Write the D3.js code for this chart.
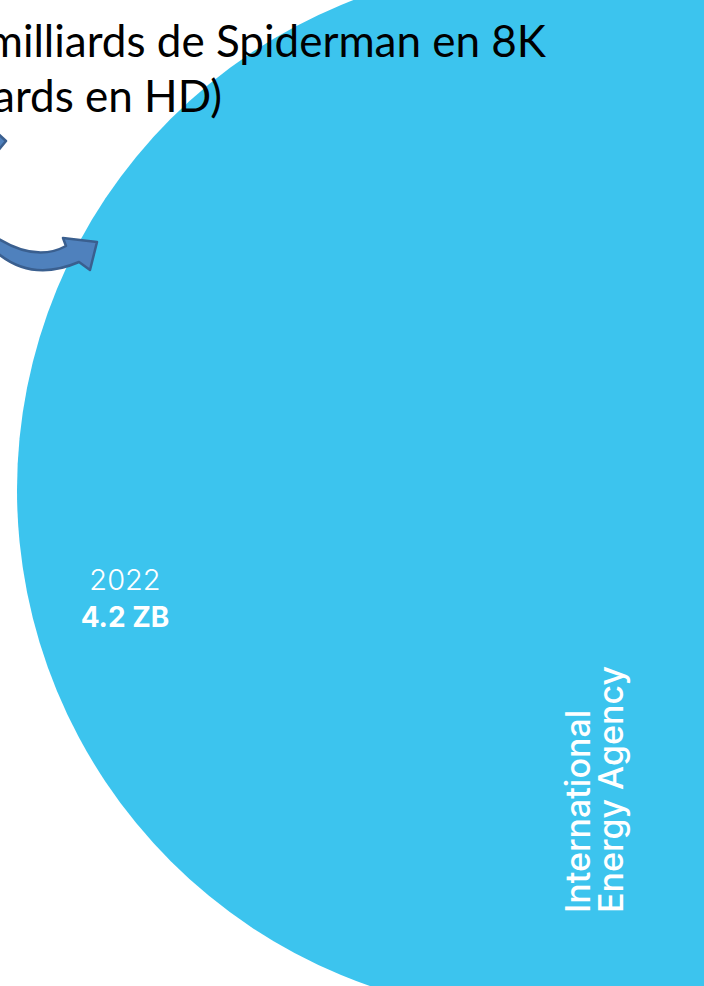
<!DOCTYPE html>
<html>
<head>
<meta charset="utf-8">
<script src="https://cdn.jsdelivr.net/npm/d3@7"></script>
<style>
  html, body { margin: 0; padding: 0; background: #ffffff; }
  svg { display: block; }
</style>
</head>
<body>
<div id="chart"></div>
<script>
// Data volume bubble
const years = ["2022"];
const volumes = [4.2];          // zettabytes
const unit = "ZB";
const calloutLines = ["milliards de Spiderman en 8K", "ards en HD)"];
const sourceLines = ["International", "Energy Agency"];

const W = 704, H = 986;
const bubbleCenter = { x: 542, y: 490 };
const bubbleColor = "#3cc4ee";

const svg = d3.select("#chart").append("svg")
  .attr("width", W).attr("height", H);

// bubble area proportional to the data volume
const radius = d3.scaleSqrt().domain([0, d3.max(volumes)]).range([0, 525]);

const bubbles = svg.append("g");
bubbles.selectAll("circle")
  .data(volumes)
  .join("circle")
  .attr("cx", bubbleCenter.x)
  .attr("cy", bubbleCenter.y)
  .attr("r", d => radius(d))
  .attr("fill", bubbleColor);

// year + value label near the left rim of the bubble
const labelX = 125;
const labels = svg.append("g")
  .attr("font-family", "Inter, 'Liberation Sans', sans-serif")
  .attr("fill", "#ffffff")
  .attr("text-anchor", "middle");
labels.selectAll("text.year")
  .data(years)
  .join("text")
  .attr("class", "year")
  .attr("x", labelX)
  .attr("y", 590)
  .attr("font-size", 29)
  .attr("font-weight", 300)
  .text(d => d);
labels.selectAll("text.value")
  .data(volumes)
  .join("text")
  .attr("class", "value")
  .attr("x", labelX)
  .attr("y", 627)
  .attr("font-size", 28)
  .attr("font-weight", 700)
  .text(d => `${d} ${unit}`);

// source credit, set vertically on the right
const source = svg.append("g")
  .attr("transform", "translate(590, 913) rotate(-90)")
  .attr("font-family", "Inter, 'Liberation Sans', sans-serif")
  .attr("font-size", 34)
  .attr("font-weight", 500)
  .attr("fill", "#ffffff");
source.selectAll("text")
  .data(sourceLines)
  .join("text")
  .attr("x", 0)
  .attr("y", (d, i) => i * 33)
  .text(d => d);

// callout text at the top
const callout = svg.append("g")
  .attr("font-family", "Lato, 'Open Sans', sans-serif")
  .attr("font-size", 44)
  .attr("fill", "#000000");
callout.selectAll("text")
  .data(calloutLines)
  .join("text")
  .attr("text-anchor", "end")
  .attr("x", (d, i) => i === 0 ? 546 : 222)
  .attr("y", (d, i) => 57 + i * 55)
  .text(d => d);

// curved pointer arrows
const arrowFill = "#4f81bd", arrowStroke = "#3a5f8f";
const arrows = svg.append("g")
  .attr("fill", arrowFill)
  .attr("stroke", arrowStroke)
  .attr("stroke-width", 2.5)
  .attr("stroke-linejoin", "round");

const mainArrow = d3.path();
mainArrow.moveTo(-6, 236);
mainArrow.quadraticCurveTo(35, 263, 66, 246);
mainArrow.lineTo(63, 238);
mainArrow.lineTo(97, 242);
mainArrow.lineTo(90, 270);
mainArrow.lineTo(79, 262);
mainArrow.quadraticCurveTo(30, 283, -6, 250);
mainArrow.closePath();
arrows.append("path").attr("d", mainArrow.toString());

const stubArrow = d3.path();
stubArrow.moveTo(-8, 128);
stubArrow.lineTo(6, 141);
stubArrow.lineTo(-4, 153);
stubArrow.closePath();
arrows.append("path").attr("d", stubArrow.toString());
</script>
</body>
</html>
